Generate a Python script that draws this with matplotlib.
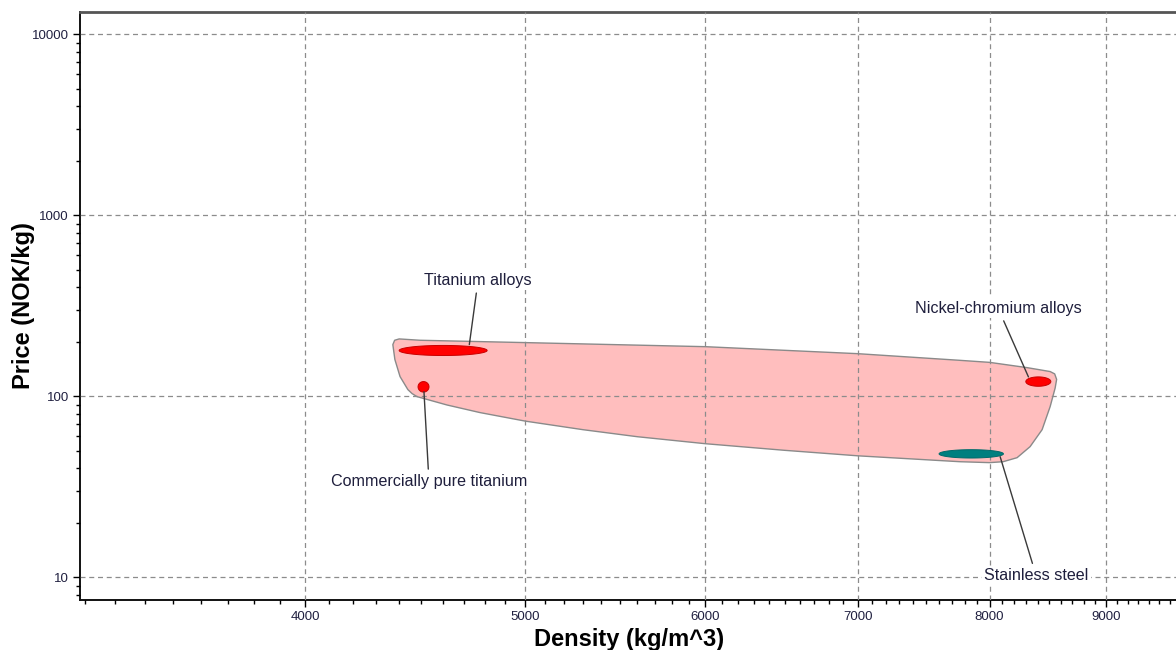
import numpy as np
import matplotlib
matplotlib.use("Agg")
from matplotlib import pyplot as plt
from matplotlib.ticker import FixedLocator, FixedFormatter, MultipleLocator, NullFormatter, LogLocator

plt.rcParams['font.family'] = ['Liberation Sans', 'DejaVu Sans']

# envelope around all the metals (density kg/m^3, price NOK/kg), clockwise from top left
env_density = [4400, 4494, 5000, 6000, 7000, 7765, 8000, 8310, 8506, 8545, 8562,
               8549, 8506, 8437, 8335, 8226, 8110, 8000, 7765, 7000, 6500, 6000,
               5600, 5300, 5000, 4775, 4619, 4480, 4458, 4439, 4404, 4381, 4372, 4380]
env_price = [207.5, 204, 198, 188, 172, 158, 154, 144, 137, 133, 124,
             111, 87.7, 65.4, 52.7, 45.8, 43.5, 43.0, 43.5, 46.9, 50.3, 54.7,
             59.8, 65.4, 72.9, 81.3, 89.5, 99.6, 103.5, 108.9, 128.5, 159.7, 193, 204]

# material bubbles: density and price ranges
names = ["Titanium alloys", "Commercially pure titanium", "Nickel-chromium alloys", "Stainless steel"]
dens_lo = [4400, 4485, 8299, 7601]
dens_hi = [4810, 4535, 8512, 8113]
price_lo = [168, 105.5, 113.6, 45.6]
price_hi = [191, 120.6, 128, 50.7]
fill_colors = ['#ff0000', '#ff0000', '#ff0000', '#007f7f']
edge_colors = ['#c80000', '#c80000', '#c80000', '#006a6a']

# label positions and where the leader line ends
label_density = [4766, 4535, 8070, 8387]
label_price = [437, 33.7, 306, 10.17]
target_density = [4724, 4512, 8321, 8086]
target_price = [193, 106, 128, 46.4]

x_ticks = [4000, 5000, 6000, 7000, 8000, 9000]
y_ticks = [10, 100, 1000, 10000]

fig = plt.figure(figsize=(11.76, 6.5), dpi=100)
ax = fig.add_axes([80 / 1176, 50 / 650, 1096 / 1176, 588 / 650])
ax.set_xscale('log')
ax.set_yscale('log')
ax.set_xlim(3185, 9662)
ax.set_ylim(7.49, 13285)

# envelope
ax.fill(env_density, env_price, facecolor='#ffbebe', edgecolor='#8a8a8a', lw=1.0,
        joinstyle='round', zorder=1)

# bubbles as ellipses in log space
t = np.linspace(0, 2 * np.pi, 120)
for i in range(len(names)):
    cx = (np.log10(dens_lo[i]) + np.log10(dens_hi[i])) / 2
    rx = (np.log10(dens_hi[i]) - np.log10(dens_lo[i])) / 2
    cy = (np.log10(price_lo[i]) + np.log10(price_hi[i])) / 2
    ry = (np.log10(price_hi[i]) - np.log10(price_lo[i])) / 2
    ax.fill(10 ** (cx + rx * np.cos(t)), 10 ** (cy + ry * np.sin(t)),
            facecolor=fill_colors[i], edgecolor=edge_colors[i], lw=0.7, zorder=3)

    ax.annotate(names[i], xy=(target_density[i], target_price[i]),
                xytext=(label_density[i], label_price[i]),
                ha='center', va='center', fontsize=11.6, color='#1e1e3c', zorder=4,
                bbox=dict(boxstyle='square,pad=0.15', fc='white', ec='none'),
                arrowprops=dict(arrowstyle='-', color='#3a3a3a', lw=1.0,
                                shrinkA=2, shrinkB=0))

# ticks
ax.xaxis.set_major_locator(FixedLocator(x_ticks))
ax.xaxis.set_major_formatter(FixedFormatter([str(v) for v in x_ticks]))
ax.xaxis.set_minor_locator(MultipleLocator(100))
ax.xaxis.set_minor_formatter(NullFormatter())
ax.yaxis.set_major_locator(FixedLocator(y_ticks))
ax.yaxis.set_major_formatter(FixedFormatter([str(v) for v in y_ticks]))
ax.yaxis.set_minor_locator(LogLocator(base=10, subs=np.arange(2, 10)))
ax.yaxis.set_minor_formatter(NullFormatter())

ax.tick_params(which='major', direction='out', length=5, width=1, labelsize=9.5,
               labelcolor='#202040', pad=3)
ax.tick_params(which='minor', direction='out', length=3, width=1)
ax.tick_params(top=False, right=False, which='both')

# grid over the envelope
ax.set_axisbelow(False)
ax.grid(which='major', color='#8c8c8c', linestyle=(0, (4, 3)), lw=0.9)

for side in ['left', 'bottom']:
    ax.spines[side].set_linewidth(1.4)
    ax.spines[side].set_color('#111111')
ax.spines['top'].set_linewidth(2)
ax.spines['top'].set_color('#555555')
ax.spines['right'].set_visible(False)

ax.set_xlabel("Density (kg/m^3)", fontsize=17, fontweight='bold', color='black')
ax.set_ylabel("Price (NOK/kg)", fontsize=17, fontweight='bold', color='black')
ax.xaxis.set_label_coords(0.501, -0.047)
ax.yaxis.set_label_coords(-0.041, 0.5)

plt.savefig("out.png", dpi=100)
